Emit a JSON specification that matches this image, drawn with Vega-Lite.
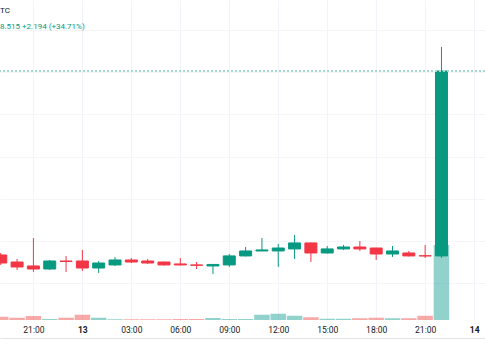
{
  "$schema": "https://vega.github.io/schema/vega-lite/v6.json",
  "width": 485,
  "height": 320,
  "autosize": {"type": "none"},
  "padding": {"left": 0, "top": 0, "right": 0, "bottom": 40},
  "config": {"view": {"stroke": null}, "font": "Roboto"},
  "title": {
    "text": "TC",
    "subtitle": "8.515  +2.194 (+34.71%)",
    "anchor": "start",
    "frame": "group",
    "orient": "top",
    "offset": -31,
    "fontSize": 8,
    "fontWeight": "normal",
    "color": "#131722",
    "subtitleFontSize": 8,
    "subtitleColor": "#089981",
    "subtitlePadding": 8
  },
  "data": {
    "values": [
      {"t": "2024-03-12T19:00:00", "open": 6.332, "high": 6.356, "low": 6.214, "close": 6.237, "volume": 13},
      {"t": "2024-03-12T20:00:00", "open": 6.249, "high": 6.285, "low": 6.154, "close": 6.190, "volume": 9},
      {"t": "2024-03-12T21:00:00", "open": 6.202, "high": 6.534, "low": 6.131, "close": 6.166, "volume": 16},
      {"t": "2024-03-12T22:00:00", "open": 6.166, "high": 6.273, "low": 6.154, "close": 6.261, "volume": 4},
      {"t": "2024-03-12T23:00:00", "open": 6.261, "high": 6.321, "low": 6.131, "close": 6.255, "volume": 9},
      {"t": "2024-03-13T00:00:00", "open": 6.261, "high": 6.392, "low": 6.143, "close": 6.178, "volume": 21},
      {"t": "2024-03-13T01:00:00", "open": 6.178, "high": 6.261, "low": 6.119, "close": 6.237, "volume": 9},
      {"t": "2024-03-13T02:00:00", "open": 6.214, "high": 6.309, "low": 6.202, "close": 6.273, "volume": 3},
      {"t": "2024-03-13T03:00:00", "open": 6.273, "high": 6.297, "low": 6.237, "close": 6.249, "volume": 3},
      {"t": "2024-03-13T04:00:00", "open": 6.261, "high": 6.285, "low": 6.226, "close": 6.237, "volume": 3},
      {"t": "2024-03-13T05:00:00", "open": 6.249, "high": 6.252, "low": 6.208, "close": 6.214, "volume": 3},
      {"t": "2024-03-13T06:00:00", "open": 6.226, "high": 6.297, "low": 6.208, "close": 6.214, "volume": 4},
      {"t": "2024-03-13T07:00:00", "open": 6.214, "high": 6.249, "low": 6.166, "close": 6.210, "volume": 4},
      {"t": "2024-03-13T08:00:00", "open": 6.202, "high": 6.226, "low": 6.107, "close": 6.220, "volume": 8},
      {"t": "2024-03-13T09:00:00", "open": 6.214, "high": 6.344, "low": 6.190, "close": 6.321, "volume": 4},
      {"t": "2024-03-13T10:00:00", "open": 6.321, "high": 6.427, "low": 6.315, "close": 6.380, "volume": 4},
      {"t": "2024-03-13T11:00:00", "open": 6.380, "high": 6.534, "low": 6.378, "close": 6.392, "volume": 21},
      {"t": "2024-03-13T12:00:00", "open": 6.380, "high": 6.463, "low": 6.190, "close": 6.415, "volume": 25},
      {"t": "2024-03-13T13:00:00", "open": 6.404, "high": 6.570, "low": 6.285, "close": 6.475, "volume": 17},
      {"t": "2024-03-13T14:00:00", "open": 6.475, "high": 6.478, "low": 6.249, "close": 6.356, "volume": 11},
      {"t": "2024-03-13T15:00:00", "open": 6.356, "high": 6.439, "low": 6.350, "close": 6.404, "volume": 5},
      {"t": "2024-03-13T16:00:00", "open": 6.404, "high": 6.451, "low": 6.392, "close": 6.427, "volume": 5},
      {"t": "2024-03-13T17:00:00", "open": 6.427, "high": 6.498, "low": 6.380, "close": 6.404, "volume": 7},
      {"t": "2024-03-13T18:00:00", "open": 6.415, "high": 6.418, "low": 6.273, "close": 6.344, "volume": 9},
      {"t": "2024-03-13T19:00:00", "open": 6.344, "high": 6.439, "low": 6.309, "close": 6.380, "volume": 7},
      {"t": "2024-03-13T20:00:00", "open": 6.356, "high": 6.380, "low": 6.315, "close": 6.321, "volume": 7},
      {"t": "2024-03-13T21:00:00", "open": 6.323, "high": 6.451, "low": 6.297, "close": 6.321, "volume": 17},
      {"t": "2024-03-13T22:00:00", "open": 6.321, "high": 8.800, "low": 6.297, "close": 8.515, "volume": 300}
    ]
  },
  "layer": [
    {
      "mark": {"type": "bar", "size": 15.5, "opacity": 0.5},
      "encoding": {
        "x": {
          "field": "t", "type": "temporal",
          "scale": {"domain": [
            {"year": 2024, "month": 3, "date": 12, "hours": 19, "minutes": 15, "seconds": 36},
            {"year": 2024, "month": 3, "date": 14, "hours": 0, "minutes": 21, "seconds": 36}
          ]},
          "axis": {
            "title": null,
            "values": [
              {"year": 2024, "month": 3, "date": 12, "hours": 21},
              {"year": 2024, "month": 3, "date": 13, "hours": 0},
              {"year": 2024, "month": 3, "date": 13, "hours": 3},
              {"year": 2024, "month": 3, "date": 13, "hours": 6},
              {"year": 2024, "month": 3, "date": 13, "hours": 9},
              {"year": 2024, "month": 3, "date": 13, "hours": 12},
              {"year": 2024, "month": 3, "date": 13, "hours": 15},
              {"year": 2024, "month": 3, "date": 13, "hours": 18},
              {"year": 2024, "month": 3, "date": 13, "hours": 21},
              {"year": 2024, "month": 3, "date": 14, "hours": 0}
            ],
            "labelExpr": "hours(datum.value) == 0 ? timeFormat(datum.value, '%-d') : timeFormat(datum.value, '%H:%M')",
            "labelFontWeight": {"condition": {"test": "hours(datum.value) == 0", "value": "bold"}, "value": "normal"},
            "labelFontSize": 8.5,
            "labelColor": "#131722",
            "labelOverlap": false,
            "labelBound": false,
            "labelFlush": false,
            "grid": true,
            "gridColor": "#f0f3fa",
            "ticks": false,
            "domain": true,
            "domainColor": "#e0e3eb",
            "offset": 18,
            "labelPadding": -13
          }
        },
        "y": {"field": "volume", "type": "quantitative", "scale": {"domain": [0, 1280]}, "axis": null},
        "color": {"condition": {"test": "datum.close >= datum.open", "value": "#26a69a"}, "value": "#ef5350"}
      }
    },
    {
      "mark": {"type": "rule", "strokeWidth": 1},
      "encoding": {
        "x": {"field": "t", "type": "temporal"},
        "y": {"field": "low", "type": "quantitative", "scale": {"domain": [5.561, 9.357]},
          "axis": {"title": null, "labels": false, "ticks": false, "domain": false, "grid": true, "gridColor": "#f3f5f9", "values": [6, 6.5, 7, 7.5, 8, 8.5, 9]}},
        "y2": {"field": "high"},
        "color": {"condition": {"test": "datum.close >= datum.open", "value": "#089981"}, "value": "#f23645"}
      }
    },
    {
      "mark": {"type": "bar", "size": 12, "strokeWidth": 1},
      "encoding": {
        "x": {"field": "t", "type": "temporal"},
        "y": {"field": "open", "type": "quantitative", "scale": {"domain": [5.561, 9.357]}, "axis": null},
        "y2": {"field": "close"},
        "color": {"condition": {"test": "datum.close >= datum.open", "value": "#089981"}, "value": "#f23645"},
        "stroke": {"condition": {"test": "datum.close >= datum.open", "value": "#089981"}, "value": "#f23645"}
      }
    },
    {
      "mark": {"type": "rule", "strokeWidth": 1, "strokeDash": [2, 2], "color": "#a6dcd2"},
      "encoding": {"y": {"datum": 8.515, "type": "quantitative", "scale": {"domain": [5.561, 9.357]}, "axis": null}}
    }
  ],
  "resolve": {"scale": {"y": "independent"}}
}
